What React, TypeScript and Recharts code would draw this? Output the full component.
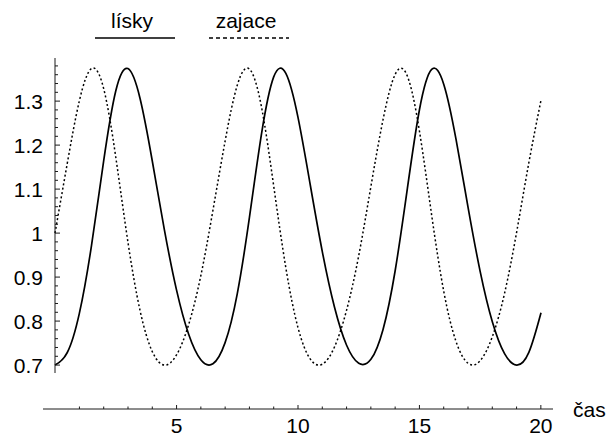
import React from 'react';
import { LineChart, Line, XAxis, YAxis, Legend, Label } from 'recharts';

const W = 606;
const H = 438;
const FONT = '"Liberation Sans", Arial, Helvetica, sans-serif';
const INK = '#1a1a1a';

// čas (time), every half unit
const times = [
  0, 0.5, 1, 1.5, 2, 2.5, 3, 3.5, 4, 4.5, 5, 5.5, 6, 6.5, 7, 7.5, 8, 8.5, 9, 9.5, 10,
  10.5, 11, 11.5, 12, 12.5, 13, 13.5, 14, 14.5, 15, 15.5, 16, 16.5, 17, 17.5, 18, 18.5, 19, 19.5, 20,
];

// lísky – solid line
const lisky = [
  0.700, 0.728, 0.817, 0.971, 1.163, 1.323, 1.374, 1.306, 1.165, 1.008, 0.871, 0.770, 0.712, 0.703,
  0.751, 0.862, 1.035, 1.226, 1.355, 1.363, 1.263, 1.111, 0.958, 0.832, 0.745, 0.704, 0.713, 0.781,
  0.915, 1.101, 1.281, 1.372, 1.338, 1.214, 1.058, 0.912, 0.798, 0.726, 0.700, 0.729, 0.819,
];

// zajace – dotted line
const zajace = [
  1.000, 1.157, 1.300, 1.374, 1.329, 1.173, 0.980, 0.824, 0.731, 0.700, 0.723, 0.792, 0.903, 1.052,
  1.209, 1.336, 1.373, 1.286, 1.107, 0.921, 0.785, 0.714, 0.702, 0.741, 0.825, 0.949, 1.106, 1.258,
  1.361, 1.357, 1.231, 1.041, 0.867, 0.754, 0.704, 0.710, 0.765, 0.863, 1.003, 1.160, 1.302,
];

const seriesNames = ['lísky', 'zajace'];
const seriesDash = ['', '2 2.4'];
const legendDash = ['', '4 3'];

const yTicks = [
  0.7, 0.72, 0.74, 0.76, 0.78, 0.8, 0.82, 0.84, 0.86, 0.88, 0.9, 0.92, 0.94, 0.96, 0.98, 1,
  1.02, 1.04, 1.06, 1.08, 1.1, 1.12, 1.14, 1.16, 1.18, 1.2, 1.22, 1.24, 1.26, 1.28, 1.3,
  1.32, 1.34, 1.36, 1.38,
];
const yMajor = [0.7, 0.8, 0.9, 1, 1.1, 1.2, 1.3];
const yMajorLabels = ['0.7', '0.8', '0.9', '1', '1.1', '1.2', '1.3'];

const xTicks = [1, 2, 3, 4, 5, 6, 7, 8, 9, 10, 11, 12, 13, 14, 15, 16, 17, 18, 19, 20];
const xMajor = [5, 10, 15, 20];
const xLabel = 'čas';

const data = times.map((t, i) => ({ t, lisky: lisky[i], zajace: zajace[i] }));

const YTick = (props: any) => {
  const { x, y, payload } = props;
  const v = payload.value;
  const mi = yMajor.findIndex((m) => Math.abs(m - v) < 1e-6);
  const ax = x + 12;
  return (
    <g>
      <line x1={ax} x2={ax + (mi >= 0 ? 5 : 3)} y1={y} y2={y} stroke={INK} strokeWidth={1} />
      {mi >= 0 && (
        <text x={x} y={y} dy="0.36em" textAnchor="end" fontFamily={FONT} fontSize={21} fill="#000">
          {yMajorLabels[mi]}
        </text>
      )}
    </g>
  );
};

const XTick = (props: any) => {
  const { x, y, payload } = props;
  const v = payload.value;
  const major = xMajor.includes(v);
  return (
    <g>
      <line x1={x} x2={x} y1={y} y2={y - (major ? 4 : 2.5)} stroke={INK} strokeWidth={1} />
      {major && (
        <text x={x} y={y + 24} textAnchor="middle" fontFamily={FONT} fontSize={21} fill="#000">
          {v}
        </text>
      )}
    </g>
  );
};

const renderCas = (props: any) => {
  const vb = props.viewBox || {};
  return (
    <text x={vb.x + vb.width + 20} y={vb.y + 8} fontFamily={FONT} fontSize={21} fill="#000">
      {xLabel}
    </text>
  );
};

const LegendBox = () => {
  const centers = [135, 249];
  const halfLen = [40, 40];
  return (
    <svg width={W} height={50} style={{ display: 'block', overflow: 'visible' }}>
      {seriesNames.map((name, i) => (
        <g key={name}>
          <text x={centers[i] - 3} y={28} textAnchor="middle" fontFamily={FONT} fontSize={21} fill="#000">
            {name}
          </text>
          <line
            x1={centers[i] - halfLen[i]}
            x2={centers[i] + halfLen[i]}
            y1={38}
            y2={38}
            stroke="#000"
            strokeWidth={1.5}
            strokeDasharray={legendDash[i] || undefined}
          />
        </g>
      ))}
    </svg>
  );
};

export default function App() {
  return (
    <div style={{ position: 'absolute', left: 0, top: 0, width: W, height: H, background: '#fff' }}>
      {/* curves + vertical axis */}
      <div style={{ position: 'absolute', left: 0, top: 0 }}>
        <LineChart width={W} height={H} data={data} margin={{ top: 58, right: 65, bottom: 65, left: 0 }}>
          <XAxis dataKey="t" type="number" domain={[0, 20]} hide />
          <YAxis
            type="number"
            domain={[0.682, 1.398]}
            ticks={yTicks}
            interval={0}
            width={55}
            tickSize={0}
            tickMargin={12}
            tickLine={false}
            axisLine={{ stroke: INK, strokeWidth: 1 }}
            tick={<YTick />}
          />
          <Legend
            verticalAlign="top"
            content={<LegendBox />}
            wrapperStyle={{ top: 0, left: 0, width: W, height: 0, overflow: 'visible' }}
          />
          <Line
            type="natural"
            dataKey="lisky"
            name={seriesNames[0]}
            stroke="#000"
            strokeWidth={1.7}
            dot={false}
            isAnimationActive={false}
          />
          <Line
            type="natural"
            dataKey="zajace"
            name={seriesNames[1]}
            stroke="#000"
            strokeWidth={1.5}
            strokeDasharray={seriesDash[1]}
            dot={false}
            isAnimationActive={false}
          />
        </LineChart>
      </div>
      {/* horizontal axis */}
      <div style={{ position: 'absolute', left: 0, top: 0 }}>
        <LineChart width={W} height={H} data={data} margin={{ top: 10, right: 53, bottom: 0, left: 43 }}>
          <YAxis type="number" domain={[0.682, 1.398]} hide />
          <XAxis
            dataKey="t"
            type="number"
            domain={[-0.5, 20.5]}
            ticks={xTicks}
            interval={0}
            height={29}
            tickSize={0}
            tickMargin={0}
            tickLine={false}
            axisLine={{ stroke: INK, strokeWidth: 1 }}
            tick={<XTick />}
          >
            <Label content={renderCas} />
          </XAxis>
        </LineChart>
      </div>
    </div>
  );
}
